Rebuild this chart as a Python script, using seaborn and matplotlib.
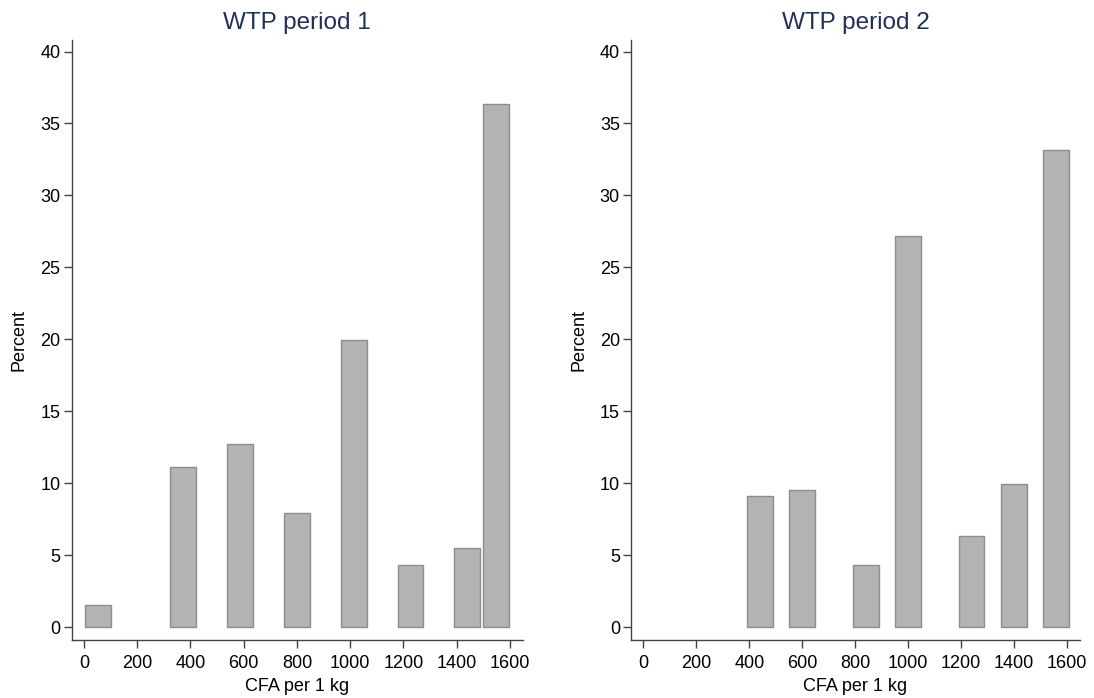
import pandas as pd
import matplotlib
matplotlib.use("Agg")
import matplotlib.pyplot as plt
import seaborn as sns

# WTP values (bin centres, CFA per 1 kg) and share of respondents (%)
p1_wtp = [53, 373, 587, 800, 1013, 1227, 1440, 1547]
p1_pct = [1.52, 11.15, 12.73, 7.92, 19.93, 4.30, 5.51, 36.32]

p2_wtp = [440, 600, 840, 1000, 1240, 1400, 1560]
p2_pct = [9.13, 9.52, 4.30, 27.15, 6.32, 9.92, 33.13]

titles = ["WTP period 1", "WTP period 2"]
x_ticks = list(range(0, 1601, 200))
y_ticks = list(range(0, 41, 5))

sns.set_style("white")
plt.rcParams["font.family"] = ["Liberation Sans", "DejaVu Sans"]
plt.rcParams["text.color"] = "black"
plt.rcParams["axes.labelcolor"] = "black"
plt.rcParams["xtick.color"] = "black"
plt.rcParams["ytick.color"] = "black"

fig = plt.figure(figsize=(10.94, 6.98), dpi=100)
ax1 = fig.add_axes([0.0654, 0.0831, 0.4127, 0.8596])
ax2 = fig.add_axes([0.5768, 0.0831, 0.4104, 0.8596])

# bar width relative to the smallest gap between bars (native x scale)
panels = [
    (ax1, p1_wtp, p1_pct, 0.91),
    (ax2, p2_wtp, p2_pct, 0.6125),
]

for i, (ax, wtp, pct, width) in enumerate(panels):
    df = pd.DataFrame({"wtp": wtp, "pct": pct})
    sns.barplot(data=df, x="wtp", y="pct", native_scale=True, width=width,
                errorbar=None, color="#b3b3b3", saturation=1,
                edgecolor="#8e8e8e", linewidth=1.0, ax=ax)
    ax.set_xlim(-47, 1650)
    ax.set_ylim(-0.9, 40.8)
    ax.set_xticks(x_ticks)
    ax.set_xticklabels([str(t) for t in x_ticks])
    ax.set_yticks(y_ticks)
    ax.set_title(titles[i], fontsize=17.5, color="#1f2f55", pad=8)
    ax.set_xlabel("CFA per 1 kg", fontsize=13, labelpad=4)
    ax.set_ylabel("Percent", fontsize=13, labelpad=9)
    ax.tick_params(axis="both", labelsize=13, length=6, width=1,
                   color="#444444", direction="out", bottom=True, left=True)
    ax.tick_params(axis="x", pad=5)
    ax.tick_params(axis="y", pad=2)
    for side in ["top", "right"]:
        ax.spines[side].set_visible(False)
    for side in ["left", "bottom"]:
        ax.spines[side].set_color("#444444")
        ax.spines[side].set_linewidth(1.0)

fig.savefig("out.png", dpi=100)
